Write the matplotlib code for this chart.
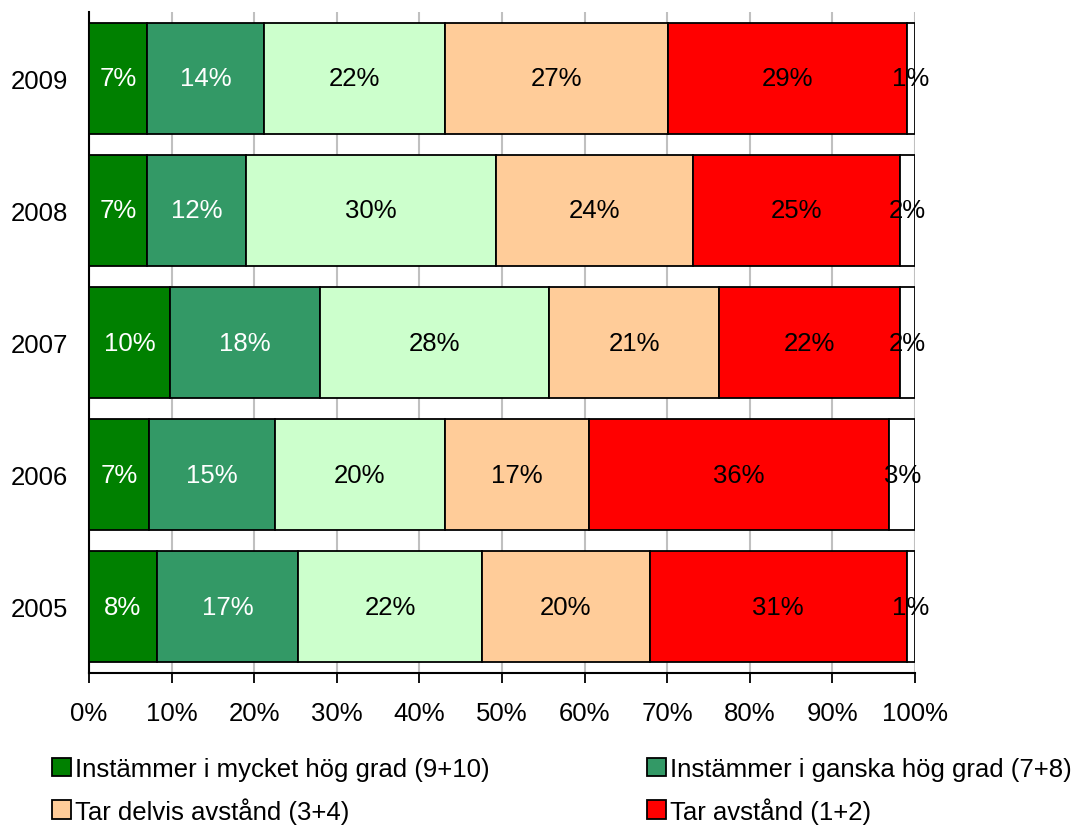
import numpy as np
import matplotlib.pyplot as plt
from matplotlib.patches import Patch

plt.rcParams['font.family'] = ['Liberation Sans', 'DejaVu Sans']

# data (andel i procent, läst från bilden)
years = ['2005', '2006', '2007', '2008', '2009']
serier = ['Instämmer i mycket hög grad (9+10)', 'Instämmer i ganska hög grad (7+8)',
          'Varken eller (5+6)', 'Tar delvis avstånd (3+4)', 'Tar avstånd (1+2)', 'Vet ej']
mycket_hog = [8.2, 7.3, 9.8, 7.0, 7.0]
ganska_hog = [17.1, 15.2, 18.2, 12.0, 14.2]
varken = [22.3, 20.6, 27.7, 30.3, 21.9]
delvis_avst = [20.3, 17.4, 20.6, 23.8, 27.0]
avstand = [31.1, 36.4, 21.9, 25.1, 28.9]
vet_ej = [1.0, 3.1, 1.8, 1.8, 1.0]
etiketter = [[8, 7, 10, 7, 7], [17, 15, 18, 12, 14], [22, 20, 28, 30, 22],
             [20, 17, 21, 24, 27], [31, 36, 22, 25, 29], [1, 3, 2, 2, 1]]

data = [mycket_hog, ganska_hog, varken, delvis_avst, avstand, vet_ej]
farger = ['#008000', '#339966', '#CCFFCC', '#FFCC99', '#FF0000', '#FFFFFF']
textfarg = ['white', 'white', 'black', 'black', 'black', 'black']
fs = 18.5

fig = plt.figure(figsize=(10.85, 8.28), dpi=100)
ax = fig.add_axes([0.082, 0.186, 0.7613, 0.798])

y = np.arange(len(years))
left = np.zeros(len(years))
for i, vals in enumerate(data):
    vals = np.array(vals)
    ax.barh(y, vals, left=left, height=0.84, color=farger[i], edgecolor='black',
            linewidth=1.3, zorder=3)
    for j in range(len(years)):
        ax.text(left[j] + vals[j] / 2, y[j], f"{etiketter[i][j]}%", ha='center', va='center',
                color=textfarg[i], fontsize=fs, zorder=4)
    left += vals

ax.set_xlim(0, 100)
ax.set_ylim(-0.5, 4.5)
ax.set_yticks(y)
ax.set_yticklabels(years, fontsize=fs)
ax.set_xticks(np.arange(0, 101, 10))
ax.set_xticklabels([f"{v}%" for v in range(0, 101, 10)], fontsize=fs)
ax.tick_params(axis='y', length=0, pad=15)
ax.tick_params(axis='x', direction='out', length=7, width=1.3, pad=13)
ax.xaxis.grid(True, color='#C0C0C0', linewidth=1.5, zorder=0)
ax.set_axisbelow(True)
for s in ['top', 'right']:
    ax.spines[s].set_visible(False)
for s in ['left', 'bottom']:
    ax.spines[s].set_linewidth(1.5)

# legend (endast fyra poster syns)
idx = [0, 3, 1, 4]
handles = [Patch(facecolor=farger[k], edgecolor='black', linewidth=1.3, label=serier[k]) for k in idx]
fig.legend(handles=handles, ncol=2, loc='upper left', bbox_to_anchor=(0.0386, 0.097),
           frameon=False, fontsize=fs, handlelength=0.75, handleheight=0.75,
           handletextpad=0.15, columnspacing=6.1, labelspacing=0.62, borderaxespad=0)

fig.savefig('out.png', dpi=100)
